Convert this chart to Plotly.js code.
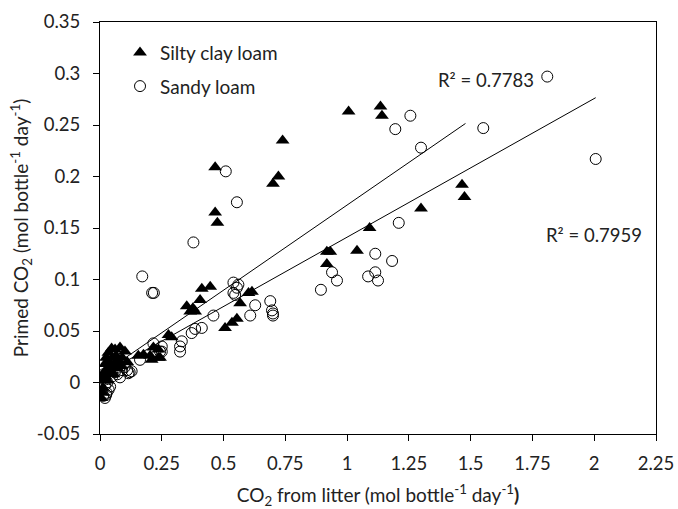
<!DOCTYPE html>
<html>
<head>
<meta charset="utf-8">
<script src="https://cdn.plot.ly/plotly-3.0.1.min.js"></script>
<style>html,body{margin:0;padding:0;background:#fff;}#chart{width:678px;height:509px;}</style>
</head>
<body>
<div id="chart"></div>
<script>
// Silty clay loam (filled triangles)
const siltyX = [0.466,0.475,0.466,0.739,0.722,0.700,1.006,1.135,1.141,1.465,1.475,1.299,1.091,1.040,
  0.918,0.932,0.918,0.615,0.601,0.567,0.554,0.534,0.506,0.446,0.412,0.405,0.351,0.365,0.376,0.385,
  0.277,0.290,0.236,0.236,0.216,0.209,0.203,0.176,0.155,0.243,0.081,0.061,0.047,0.034,0.101,
  0.012,0.015,0.018,0.020,0.022,0.025,0.028,0.030,0.035,0.040,0.045,0.050,0.055,0.060,0.065,0.070,
  0.075,0.085,0.090,0.110,0.005,0.010,0.008];
const siltyY = [0.209,0.155,0.165,0.235,0.200,0.193,0.263,0.268,0.259,0.192,0.180,0.169,0.150,0.128,
  0.127,0.127,0.115,0.088,0.087,0.077,0.062,0.058,0.053,0.093,0.091,0.080,0.074,0.069,0.072,0.069,
  0.046,0.044,0.032,0.024,0.034,0.022,0.026,0.027,0.026,0.024,0.034,0.032,0.033,0.029,0.030,
  -0.005,0.002,0.010,0.018,0.006,0.024,0.013,0.002,0.020,0.010,0.016,0.024,0.008,0.019,0.026,0.014,
  0.021,0.016,0.024,0.020,-0.015,-0.010,0.004];

// Sandy loam (open circles)
const sandyX = [0.509,0.554,0.378,0.171,0.211,0.218,1.810,1.256,1.195,1.551,1.299,2.006,1.209,
  1.114,1.182,0.939,0.959,1.085,1.114,1.125,0.894,0.540,0.560,0.554,0.540,0.547,
  0.689,0.696,0.700,0.700,0.628,0.608,0.459,0.385,0.412,0.371,0.331,0.324,0.324,
  0.216,0.250,0.243,0.250,0.162,0.128,0.115,0.081,0.041,0.027,0.013,0.020,
  0.050,0.060,0.070,0.090,0.100,0.110,0.120,0.030,0.025,0.035,0.015,0.020];
const sandyY = [0.205,0.175,0.136,0.103,0.087,0.087,0.297,0.259,0.246,0.247,0.228,0.217,0.155,
  0.125,0.118,0.107,0.099,0.103,0.107,0.099,0.090,0.097,0.095,0.092,0.087,0.085,
  0.079,0.070,0.067,0.065,0.075,0.065,0.065,0.052,0.053,0.048,0.040,0.035,0.030,
  0.038,0.030,0.030,0.035,0.022,0.011,0.009,0.005,-0.004,-0.010,-0.013,-0.015,
  0.006,0.010,0.008,0.012,0.015,0.012,0.010,0.000,-0.012,-0.007,0.008,-0.003];

// Linear trend lines: [silty clay loam, sandy loam]
const fitSlope = [0.1653, 0.1346];
const fitIntercept = [0.007, 0.0065];
const fitXMin = [0.005, 0.013];
const fitXMax = [1.479, 2.006];
const fitR2 = ["0.7783", "0.7959"];

const xTicks = [0, 0.25, 0.5, 0.75, 1, 1.25, 1.5, 1.75, 2, 2.25];
const xTickText = ["0", "0.25", "0.5", "0.75", "1", "1.25", "1.5", "1.75", "2", "2.25"];
const yTicks = [-0.05, 0, 0.05, 0.1, 0.15, 0.2, 0.25, 0.3, 0.35];
const yTickText = ["-0.05", "0", "0.05", "0.1", "0.15", "0.2", "0.25", "0.3", "0.35"];

const FONT = "Lato, 'Open Sans', sans-serif";
const TXT = "#222";

function fitLine(i) {
  const xs = [fitXMin[i], fitXMax[i]];
  return {x: xs, y: xs.map(v => fitSlope[i] * v + fitIntercept[i])};
}

const l1 = fitLine(0), l2 = fitLine(1);

const traces = [
  {x: siltyX, y: siltyY, type: 'scatter', mode: 'markers', name: 'Silty clay loam',
   legendgroup: 'a',
   marker: {symbol: 'triangle-up', size: 12, color: '#000', line: {width: 0}}},
  {x: sandyX, y: sandyY, type: 'scatter', mode: 'markers', name: 'Sandy loam',
   legendgroup: 'b',
   marker: {symbol: 'circle-open', size: 11, color: '#000', line: {width: 1, color: '#000'}}},
  {x: l1.x, y: l1.y, type: 'scatter', mode: 'lines', showlegend: false,
   line: {color: '#000', width: 1}},
  {x: l2.x, y: l2.y, type: 'scatter', mode: 'lines', showlegend: false,
   line: {color: '#000', width: 1}}
];

const layout = {
  width: 678, height: 509,
  margin: {l: 100, r: 22, t: 22, b: 75},
  paper_bgcolor: '#fff', plot_bgcolor: '#fff',
  font: {family: FONT, size: 19, color: TXT},
  showlegend: true,
  legend: {x: 0.036, y: 0.972, xanchor: 'left', yanchor: 'top', bgcolor: 'rgba(0,0,0,0)',
           font: {family: FONT, size: 19, color: TXT}, traceorder: 'grouped', tracegroupgap: 6},
  xaxis: {
    range: [0, 2.25], tickvals: xTicks, ticktext: xTickText,
    showgrid: false, zeroline: false, showline: true, linecolor: '#000', linewidth: 1, mirror: true,
    ticks: 'outside', ticklen: 6, tickcolor: '#000', ticklabelstandoff: 7,
    tickfont: {family: FONT, size: 18.5, color: TXT},
    title: {text: 'CO<sub>2</sub> from litter (mol bottle<sup>-1</sup> day<sup>-1</sup><b>)</b>',
            font: {family: FONT, size: 19, color: TXT}, standoff: 17}
  },
  yaxis: {
    range: [-0.05, 0.35], tickvals: yTicks, ticktext: yTickText,
    showgrid: false, zeroline: false, showline: true, linecolor: '#000', linewidth: 1, mirror: true,
    ticks: 'outside', ticklen: 6, tickcolor: '#000', ticklabelstandoff: 9,
    tickfont: {family: FONT, size: 18.5, color: TXT},
    title: {text: 'Primed CO<sub>2</sub> (mol bottle<sup>-1</sup> day<sup>-1</sup>)',
            font: {family: FONT, size: 19, color: TXT}, standoff: 3}
  },
  annotations: [
    {x: 1.562, y: 0.2933, xref: 'x', yref: 'y', text: 'R² = ' + fitR2[0], showarrow: false,
     font: {family: FONT, size: 18.5, color: TXT}},
    {x: 2.0, y: 0.1433, xref: 'x', yref: 'y', text: 'R² = ' + fitR2[1], showarrow: false,
     font: {family: FONT, size: 18.5, color: TXT}}
  ]
};

Plotly.newPlot('chart', traces, layout, {displayModeBar: false, staticPlot: true});
</script>
</body>
</html>
